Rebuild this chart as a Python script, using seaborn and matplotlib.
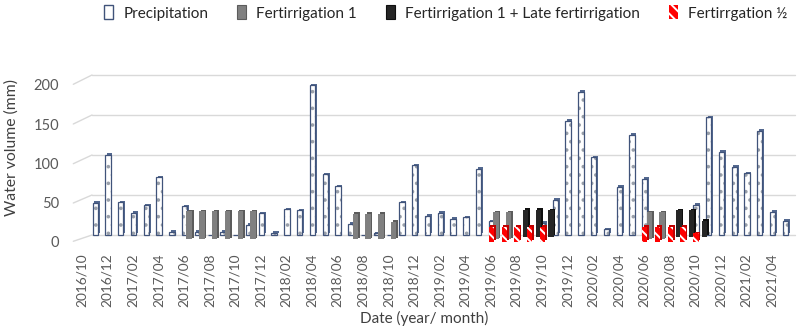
import numpy as np
import pandas as pd
import matplotlib
matplotlib.use("Agg")
import matplotlib.pyplot as plt
import seaborn as sns
from matplotlib.patches import Patch

# ---------------- data ----------------
months = [f"{y}/{m:02d}" for y, m in
          [(2016, 10), (2016, 11), (2016, 12)] +
          [(y, m) for y in (2017, 2018, 2019, 2020) for m in range(1, 13)] +
          [(2021, m) for m in range(1, 5)]]

precipitation = [40, 100, 41, 28, 37, 72, 4, 36, 4, 0, 4, 0, 13, 27, 3, 32, 31,
                 187, 76, 61, 14, 0, 2, 0, 41, 87, 24, 28, 20, 22, 83, 17,
                 0, 0, 0, 15, 44, 143, 179, 97, 7, 60, 125, 70,
                 0, 0, 0, 38, 147, 104, 85, 77, 130, 29, 18]

fert1_months = ["2017/06", "2017/07", "2017/08", "2017/09", "2017/10", "2017/11",
                "2018/07", "2018/08", "2018/09", "2018/10",
                "2019/06", "2019/07", "2020/06", "2020/07"]
fert1_values = [35, 35, 35, 35, 35, 35, 32, 32, 32, 22, 34, 34, 34, 34]

late_months = ["2019/08", "2019/09", "2019/10", "2020/08", "2020/09", "2020/10"]
late_values = [34, 34, 33, 33, 33, 20]

half_months = ["2019/06", "2019/07", "2019/08", "2019/09", "2019/10",
               "2020/06", "2020/07", "2020/08", "2020/09", "2020/10"]
half_values = [19, 19, 19, 19, 19, 19, 19, 19, 19, 11]

series_names = ["Precipitation", "Fertirrigation 1",
                "Fertirrigation 1 + Late fertirrigation", "Fertirrgation \u00bd"]
y_ticks = [0, 50, 100, 150, 200]

# ---------------- style ----------------
sns.set_theme(style="white")
plt.rcParams["font.family"] = ["Lato", "DejaVu Sans"]
plt.rcParams["hatch.linewidth"] = 1.4

fig = plt.figure(figsize=(8.0, 3.29), dpi=100)
W, H = 800, 329
ax_l, ax_r, ax_t, ax_b = 64, 800, 60, 250
ax = fig.add_axes([ax_l / W, (H - ax_b) / H, (ax_r - ax_l) / W, (ax_b - ax_t) / H])

idx = {m: i for i, m in enumerate(months)}
px_per_month = 12.78
x0_px = 81.7
px_per_mm = 0.8
base_px = 235.0
BW = 0.42

def bars(pos, vals, bottom, face, edge, lw, hatch=None, z=2, fill=True):
    df = pd.DataFrame({"x": pos, "y": vals})
    sns.barplot(data=df, x="x", y="y", native_scale=True, width=BW,
                errorbar=None, saturation=1, color=face, edgecolor=edge,
                linewidth=lw, hatch=hatch, bottom=bottom, fill=fill,
                ax=ax, zorder=z)

def positions(months_list, dx):
    return np.array([idx[m] for m in months_list], dtype=float) + dx

# Precipitation (back row)
p_pos = positions(months, 1.06)
p_val = np.asarray(precipitation, dtype=float)
bars(p_pos + 0.13, p_val, 2.0, "#53688f", "#53688f", 0.0, None, 2)
bars(p_pos, p_val, 0.0, "white", "#9aa0aa", 0.0, "..", 2.1)
bars(p_pos, p_val, 0.0, "#40537a", "#40537a", 0.9, None, 2.2, fill=False)

# Fertirrigation 1 + Late (third row)
l_pos = positions(late_months, 0.73)
bars(l_pos + 0.13, late_values, -0.2, "#0f0f0f", "#0f0f0f", 0.0, None, 3)
bars(l_pos, late_values, -2.2, "#262626", "#262626", 0.0, None, 3.1)

# Fertirrigation 1 (second row)
f_pos = positions(fert1_months, 0.41)
bars(f_pos + 0.13, fert1_values, -3.4, "#5c5c5c", "#5c5c5c", 0.0, None, 4)
bars(f_pos, fert1_values, -5.4, "#808080", "#808080", 0.0, None, 4.1)

# Fertirrgation 1/2 (front row)
h_pos = positions(half_months, 0.06)
bars(h_pos + 0.13, half_values, -6.8, "#c00000", "#c00000", 0.0, None, 5)
bars(h_pos, half_values, -8.8, "#ff0000", "white", 0.0, "\\\\\\", 5.1)

# back-wall gridlines and side-wall lines
xb0 = (92 - x0_px) / px_per_month
xb1 = (795 - x0_px) / px_per_month
xf0 = (73.3 - x0_px) / px_per_month
front_y = [(base_px - p) / px_per_mm for p in (241.3, 203.0, 163.7, 124.0, 84.3)]
for v, fy in zip(y_ticks, front_y):
    ax.plot([xb0, xb1], [v, v], color="#d9d9d9", lw=1.0, zorder=0.5)
    ax.plot([xf0, xb0], [fy, v], color="#d9d9d9", lw=1.0, zorder=0.5)

ax.set_xlim((ax_l - x0_px) / px_per_month, (ax_r - x0_px) / px_per_month)
ax.set_ylim((base_px - ax_b) / px_per_mm, (base_px - ax_t) / px_per_mm)

ax.set_yticks(front_y)
ax.set_yticklabels([str(v) for v in y_ticks])
ax.set_xticks(np.arange(0, len(months), 2))
ax.set_xticklabels(months[::2], rotation=90)
ax.tick_params(axis="y", length=0, pad=3.5, labelsize=10.5, labelcolor="#595959")
ax.tick_params(axis="x", length=0, pad=2.5, labelsize=9.8, labelcolor="#595959")
for s in ax.spines.values():
    s.set_visible(False)
ax.grid(False)
ax.set_xlabel("")
ax.set_ylabel("")

fig.text(12 / W, 1 - 148 / H, "Water volume (mm)", rotation=90, ha="center",
         va="center", fontsize=11.3, color="#404040")
fig.text(424 / W, 1 - 318 / H, "Date (year/ month)", ha="center", va="center",
         fontsize=11, color="#404040")

handles = [
    Patch(facecolor="white", edgecolor="#40537a", linewidth=1.0),
    Patch(facecolor="#808080", edgecolor="#5c5c5c", linewidth=0.8),
    Patch(facecolor="#262626", edgecolor="#0f0f0f", linewidth=0.8),
    Patch(facecolor="#ff0000", edgecolor="white", linewidth=0.0, hatch="\\\\\\"),
]
fig.legend(handles, series_names, loc="center", bbox_to_anchor=(446 / W, 1 - 13 / H),
           ncol=4, frameon=False, fontsize=11, handlelength=0.55, handleheight=1.0,
           handletextpad=0.7, columnspacing=1.9, labelcolor="#262626")

fig.savefig("out.png", dpi=100)
